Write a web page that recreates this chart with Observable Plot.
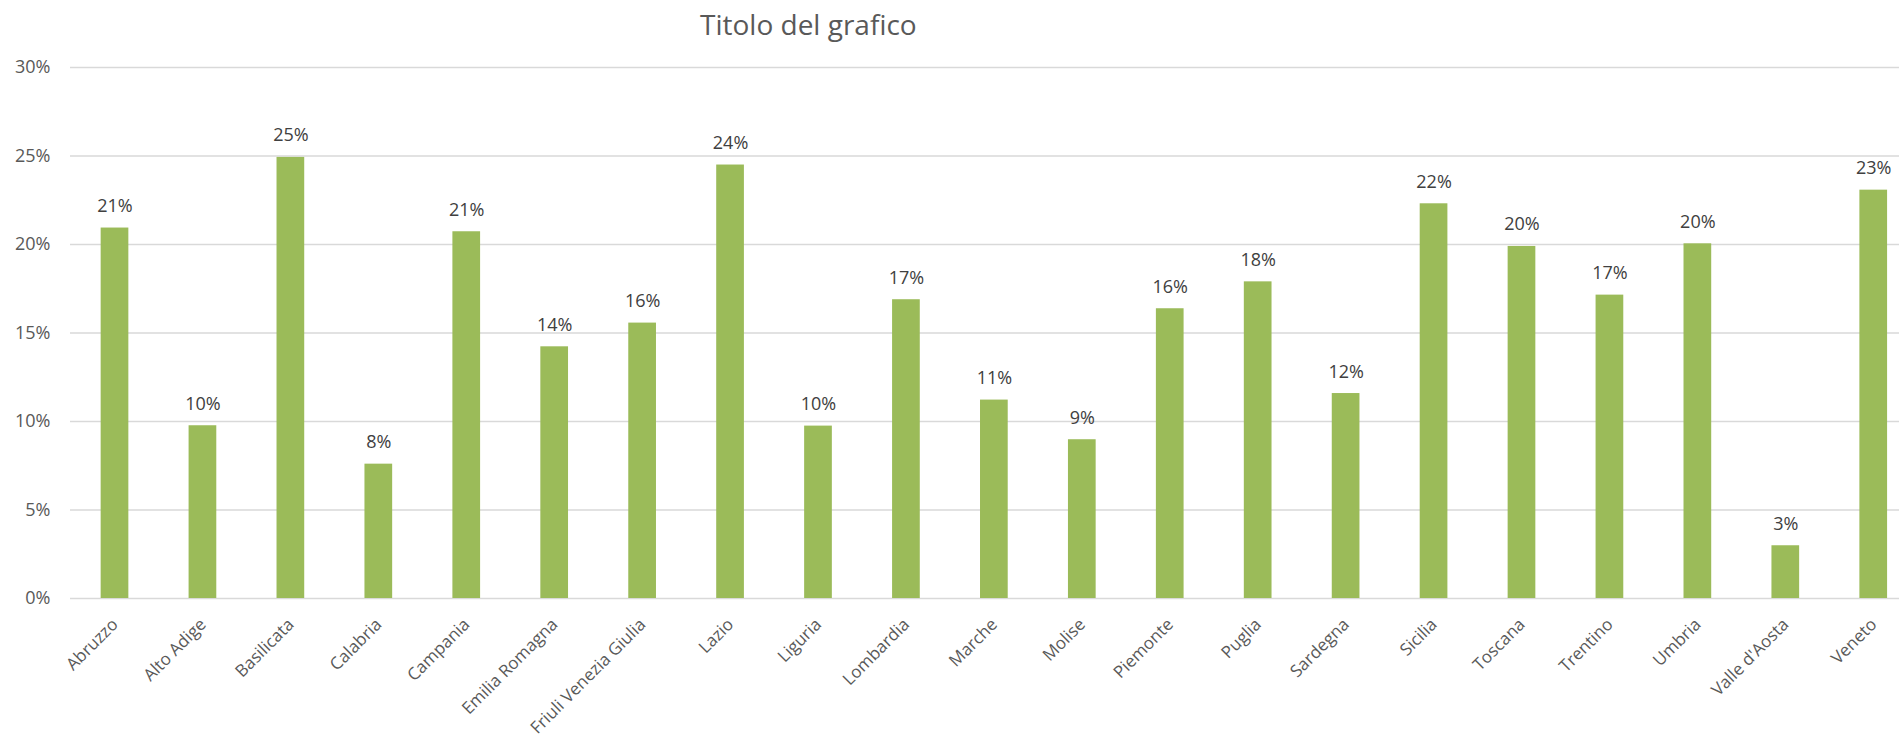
<!DOCTYPE html>
<html>
<head>
<meta charset="utf-8">
<script src="https://cdn.jsdelivr.net/npm/d3@7"></script>
<script src="https://cdn.jsdelivr.net/npm/@observablehq/plot@0.6"></script>
<style>
  html, body { margin: 0; padding: 0; background: #fff; overflow: hidden; }
  #title { height: 48px; line-height: 48px; font-family: "Open Sans", sans-serif; font-size: 28px; color: #595959; padding-left: 700px; white-space: nowrap; }
  #chart svg { display: block; }
</style>
</head>
<body>
<div id="title">Titolo del grafico</div>
<div id="chart"></div>
<script>
const regions = ["Abruzzo","Alto Adige","Basilicata","Calabria","Campania","Emilia Romagna","Friuli Venezia Giulia","Lazio","Liguria","Lombardia","Marche","Molise","Piemonte","Puglia","Sardegna","Sicilia","Toscana","Trentino","Umbria","Valle d'Aosta","Veneto"];
const values = [0.2093,0.0976,0.2492,0.0759,0.2072,0.1422,0.1556,0.2449,0.0974,0.1688,0.1121,0.0897,0.1637,0.1789,0.1158,0.2230,0.1989,0.1714,0.2004,0.0298,0.2307];
const yTicks = [0, 0.05, 0.10, 0.15, 0.20, 0.25, 0.30];

const data = regions.map((r, i) => ({region: r, value: values[i]}));
const pct = d3.format(".0%");

const chart = Plot.plot({
  width: 1899,
  height: 696,
  marginTop: 19,
  marginBottom: 146,
  marginLeft: 70,
  marginRight: 0,
  style: {fontFamily: "'Open Sans', sans-serif", fontSize: "18px", color: "#595959", background: "#fff"},
  x: {type: "band", domain: regions, range: [70.53, 1917.2], paddingInner: 0.685, paddingOuter: 0.3425, round: false, axis: null},
  y: {domain: [0, 0.3], axis: null},
  marks: [
    Plot.ruleY(yTicks, {stroke: "#d9d9d9", strokeWidth: 1.3}),
    Plot.barY(data, {x: "region", y: "value", fill: "#9bbb59"}),
    Plot.text(data, {x: "region", y: "value", text: d => pct(d.value), lineAnchor: "bottom", dy: -16, fill: "#404040", fontSize: 18}),
    Plot.axisY({ticks: yTicks, tickFormat: pct, tickSize: 0, tickPadding: 20, fontSize: 18, fill: "#595959", label: null}),
    Plot.text(regions, {x: d => d, y: () => 0, text: d => d, rotate: -45, textAnchor: "end", lineAnchor: "bottom", dx: 4, dy: 27, fill: "#595959", fontSize: 17})
  ]
});
document.getElementById("chart").appendChild(chart);
</script>
</body>
</html>
